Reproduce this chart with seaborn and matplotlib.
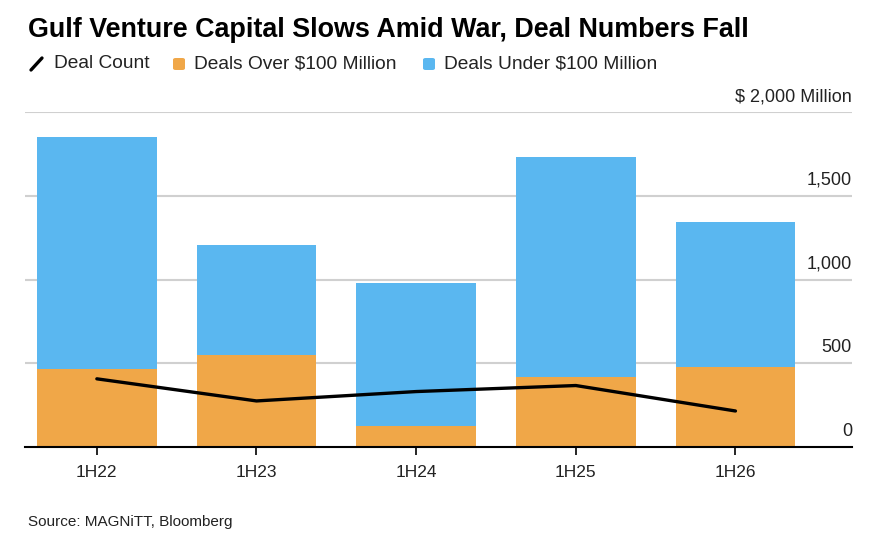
import numpy as np
import pandas as pd
import matplotlib
matplotlib.use("Agg")
import matplotlib.pyplot as plt
import matplotlib.transforms as mtransforms
from matplotlib.lines import Line2D
from matplotlib.patches import FancyBboxPatch
import seaborn as sns

# Data
periods = ["1H22", "1H23", "1H24", "1H25", "1H26"]
deals_over_100m = [463, 548, 126, 415, 478]
deals_under_100m = [1389, 657, 853, 1317, 867]
deal_count = [407, 275, 331, 367, 215]
ytick_values = [0, 500, 1000, 1500, 2000]
ytick_labels = ["0", "500", "1,000", "1,500", "$ 2,000 Million"]

ORANGE = "#F0A748"
BLUE = "#5AB7F0"
GRID = "#D0D0D0"

sns.set_style("white")
plt.rcParams["font.family"] = ["Liberation Sans", "DejaVu Sans"]

df = pd.DataFrame({
    "period": periods,
    "over": deals_over_100m,
    "under": deals_under_100m,
    "count": deal_count,
})
df["total"] = df["over"] + df["under"]

fig = plt.figure(figsize=(8.92, 5.48), dpi=100)
ax = fig.add_axes([25 / 892, 101 / 548, 827 / 892, 335 / 548])

# gridlines
for v in ytick_values[1:]:
    ax.axhline(v, color=GRID, lw=1.5, zorder=0)

sns.barplot(data=df, x="period", y="total", color=BLUE, width=0.75,
            saturation=1, linewidth=0, ax=ax, zorder=2)
sns.barplot(data=df, x="period", y="over", color=ORANGE, width=0.75,
            saturation=1, linewidth=0, ax=ax, zorder=3)
sns.lineplot(x=np.arange(len(periods)), y=df["count"], color="black",
             lw=2.4, ax=ax, zorder=4)

ax.set_xlim(-0.45, 4.73)
ax.set_ylim(0, 2000)
ax.set_xlabel("")
ax.set_ylabel("")
for s in ["top", "right", "left"]:
    ax.spines[s].set_visible(False)
ax.spines["bottom"].set_color("black")
ax.spines["bottom"].set_linewidth(1.5)
ax.spines["bottom"].set_zorder(5)

ax.set_yticks([])
ax.tick_params(axis="x", which="both", bottom=True, length=6, width=1.2,
               color="black", labelsize=12.5, pad=7, labelcolor="#222222")

trans = mtransforms.blended_transform_factory(ax.transAxes, ax.transData)
offset = mtransforms.ScaledTranslation(0, 7 / 100, fig.dpi_scale_trans)
for v, lab in zip(ytick_values, ytick_labels):
    ax.text(1.0, v, lab, transform=trans + offset, ha="right", va="bottom",
            fontsize=13, color="#222222")

# title
fig.text(28 / 892, 1 - 30 / 548, "Gulf Venture Capital Slows Amid War, Deal Numbers Fall",
         fontsize=19.4, fontweight="bold", va="center", ha="left", color="black")

# legend
ly = 1 - 64 / 548
fig.add_artist(Line2D([31 / 892, 42 / 892], [ly - 6 / 548, ly + 6 / 548],
                      color="black", lw=2.4, transform=fig.transFigure))
fig.text(54 / 892, ly, "Deal Count", fontsize=13.8, va="center", ha="left", color="#222222")
for x0, col, lab in [(173, ORANGE, "Deals Over $100 Million"),
                     (423, BLUE, "Deals Under $100 Million")]:
    fig.add_artist(FancyBboxPatch((x0 / 892, ly - 6 / 548), 12 / 892, 12 / 548,
                                  boxstyle="round,pad=0,rounding_size=0.003",
                                  transform=fig.transFigure, color=col, lw=0))
    fig.text((x0 + 21) / 892, ly, lab, fontsize=13.8, va="center", ha="left", color="#222222")

fig.text(28 / 892, 1 - 522 / 548, "Source: MAGNiTT, Bloomberg", fontsize=11,
         va="center", ha="left", color="#222222")

fig.savefig("out.png", dpi=100)
